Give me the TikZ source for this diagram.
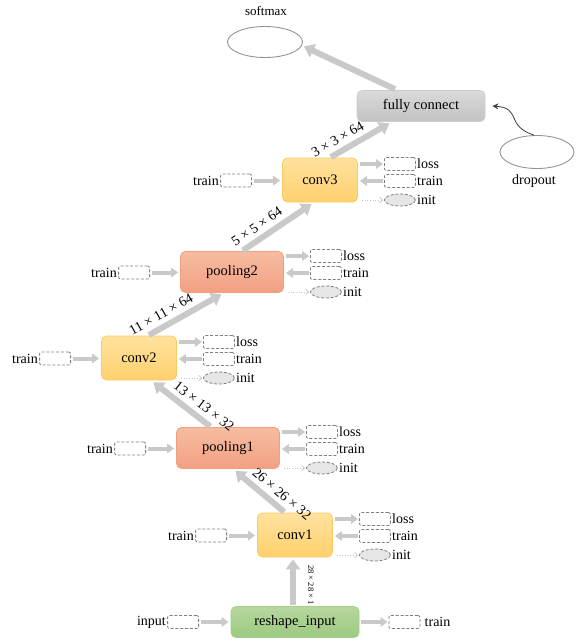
\documentclass[tikz,border=0pt]{standalone}
\usepackage{fontspec}
\setmainfont{Liberation Serif}
\usetikzlibrary{arrows.meta,shapes.geometric,calc}
\definecolor{arrowgray}{HTML}{C9C9C9}
\definecolor{dashgray}{HTML}{7F7F7F}
\definecolor{initfill}{HTML}{E6E6E6}
\definecolor{convtop}{HTML}{FFE29E}
\definecolor{convbot}{HTML}{FFD06E}
\definecolor{convline}{HTML}{FBCB62}
\definecolor{pooltop}{HTML}{F7BCA1}
\definecolor{poolbot}{HTML}{F2A082}
\definecolor{poolline}{HTML}{EFA083}
\definecolor{fctop}{HTML}{DADADA}
\definecolor{fcbot}{HTML}{C2C2C2}
\definecolor{fcline}{HTML}{CDCDCD}
\definecolor{retop}{HTML}{B6D89E}
\definecolor{rebot}{HTML}{9CC97F}
\definecolor{reline}{HTML}{A5CE8A}
\begin{document}
\begin{tikzpicture}[x=1pt,y=-1pt,font=\fontsize{14}{16}\selectfont,
  mainbox/.style={rounded corners=5pt,line width=0.8pt,inner sep=0pt,font=\fontsize{14.5}{16}\selectfont},
  convbox/.style={mainbox,draw=convline,top color=convtop,bottom color=convbot,minimum width=75pt,minimum height=44pt},
  poolbox/.style={mainbox,draw=poolline,top color=pooltop,bottom color=poolbot,minimum width=103pt,minimum height=41pt},
  fcbox/.style={mainbox,draw=fcline,top color=fctop,bottom color=fcbot,minimum width=128pt,minimum height=31pt},
  rebox/.style={mainbox,draw=reline,top color=retop,bottom color=rebot,minimum width=128pt,minimum height=31pt},
  dbox/.style={draw=dashgray,line width=0.8pt,dash pattern=on 3pt off 1.8pt,rounded corners=2pt,minimum width=31pt,minimum height=13pt,inner sep=0pt},
  dell/.style={ellipse,draw=dashgray,line width=0.8pt,dash pattern=on 3pt off 1.8pt,fill=initfill,minimum width=31pt,minimum height=12pt,inner sep=0pt},
  solell/.style={ellipse,draw=gray!85,line width=0.9pt,minimum width=75pt,minimum height=31pt,inner sep=0pt},
  flow/.style={draw=arrowgray,line width=6pt,-{Triangle[width=14pt,length=10pt]}},
  side/.style={draw=arrowgray,line width=4pt,-{Triangle[width=9.5pt,length=7pt]}},
  initarrow/.style={draw=gray!45,line width=0.7pt,dotted,-{Straight Barb[length=3pt,width=6pt]}},
  dimlabel/.style={font=\fontsize{14}{15}\selectfont,inner sep=0.5pt},
  lbl/.style={inner sep=1.2pt}]
\useasboundingbox (0,0) rectangle (580,642);

% main nodes
\node[fcbox] (fc) at (421,106) {fully connect};
\node[convbox] (c3) at (320,180) {conv3};
\node[poolbox] (p2) at (232,272) {pooling2};
\node[convbox] (c2) at (139,358) {conv2};
\node[poolbox] (p1) at (228,448) {pooling1};
\node[convbox] (c1) at (295,535) {conv1};
\node[rebox] (ri) at (295,622) {reshape\_input};

\node[solell] (sm) at (265,42) {};
\node[lbl,font=\fontsize{13}{14}\selectfont] (smlabel) at (266,11) {softmax};
\node[solell,minimum width=74pt,minimum height=33pt] (dr) at (537,152) {};
\node[lbl] (drlabel) at (534,181) {dropout};

% side boxes
\foreach \m in {c3,p2,c2,p1,c1}{
  \node[dbox] (\m-loss) at ($(\m.east)+(42,-16)$) {};
  \node[dbox] (\m-train) at ($(\m.east)+(42,1)$) {};
  \node[dell] (\m-init) at ($(\m.east)+(42,20)$) {};
  \node[lbl,anchor=west] (\m-losslabel) at (\m-loss.east) {loss};
  \node[lbl,anchor=west] (\m-trainlabel) at (\m-train.east) {train};
  \node[lbl,anchor=west] (\m-initlabel) at (\m-init.east) {init};
  \draw[side,shorten <=2pt,shorten >=1pt] (\m.east |- \m-loss) -- (\m-loss.west);
  \draw[side,shorten <=1pt,shorten >=2pt] (\m-train.west) -- (\m.east |- \m-train);
  \draw[initarrow,shorten <=4pt,shorten >=1pt] (\m.east |- \m-init) -- (\m-init.west);
  \node[dbox] (\m-in) at ($(\m.west)+(-46,0.5)$) {};
  \node[lbl,anchor=east] (\m-inlabel) at (\m-in.west) {train};
  \draw[side,shorten <=2pt,shorten >=2pt] (\m-in.east) -- (\m.west |- \m-in);
}

% reshape input side
\node[dbox] (ri-in) at ($(ri.west)+(-47.5,0)$) {};
\node[lbl,anchor=east] (ri-inlabel) at (ri-in.west) {input};
\draw[side,shorten <=2pt,shorten >=2pt] (ri-in.east) -- (ri.west |- ri-in);
\node[dbox] (ri-out) at ($(ri.east)+(45,0)$) {};
\node[lbl,anchor=west] (ri-outlabel) at ($(ri-out.east)+(3,0)$) {train};
\draw[side,shorten <=2pt,shorten >=1pt] (ri.east |- ri-out) -- (ri-out.west);

% main flow
\draw[flow,shorten <=1pt,shorten >=2pt] ([xshift=-2pt]ri.north) -- ([xshift=-2pt]c1.south);
\node[rotate=-90,font=\fontsize{8.5}{9}\selectfont,inner sep=0pt] (dim0) at (311,585) {28 × 28 × 1};
\draw[flow,shorten <=1pt,shorten >=3pt] ([xshift=-10pt]c1.north) -- ([xshift=5pt]p1.south)
  node[pos=0.21,sloped,above=4pt,dimlabel] {26 × 26 × 32};
\draw[flow,shorten <=1pt,shorten >=3pt] ([xshift=-17pt]p1.north) -- ([xshift=12pt]c2.south)
  node[pos=0.24,sloped,above=4pt,dimlabel] {13 × 13 × 32};
\draw[flow,shorten <=1pt,shorten >=3pt] ([xshift=9pt]c2.north) -- ([xshift=-8pt]p2.south)
  node[pos=0.25,sloped,above=4pt,dimlabel] {11 × 11 × 64};
\draw[flow,shorten <=1pt,shorten >=3pt] ([xshift=10pt]p2.north) -- ([xshift=-6pt]c3.south)
  node[pos=0.3,sloped,above=4pt,dimlabel] {5 × 5 × 64};
\draw[flow,shorten <=1pt,shorten >=3pt] ([xshift=10pt]c3.north) -- ([xshift=-29pt]fc.south)
  node[pos=0.22,sloped,above=4pt,dimlabel] {3 × 3 × 64};
\draw[flow,shorten <=2pt,shorten >=1pt] ([xshift=-24pt]fc.north) -- ([yshift=-4pt]sm.east);

% dropout
\draw[draw=black!75,line width=0.8pt,-{Stealth[length=6pt,width=6pt]}]
  ([xshift=-3pt]dr.north) .. controls (505,126) and (522,108) .. ([xshift=7pt]fc.east);
\end{tikzpicture}
\end{document}
